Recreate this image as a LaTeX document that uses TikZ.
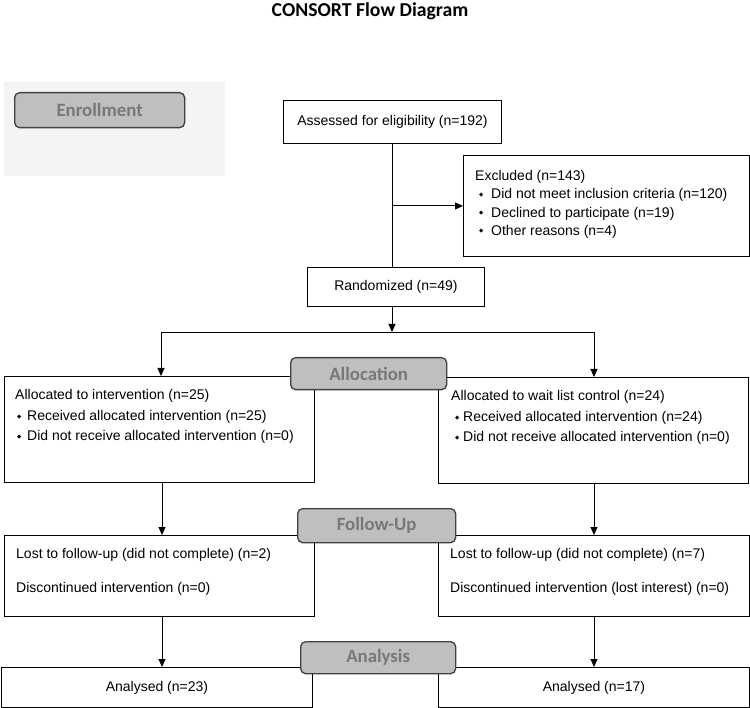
\documentclass[tikz,border=0pt]{standalone}
\usepackage{fontspec}
\setmainfont{Liberation Sans}
\newfontfamily\calfont{Carlito}
\newfontfamily\djfont{DejaVu Sans}
\usetikzlibrary{arrows.meta}
\definecolor{lblfill}{HTML}{BFBFBF}
\definecolor{lbldraw}{HTML}{404040}
\definecolor{lbltext}{HTML}{787878}
\definecolor{enrbg}{HTML}{F4F4F4}
\newcommand{\bul}[1]{\makebox[#1][l]{\raisebox{2.4pt}{\djfont\fontsize{5.5}{5.5}\selectfont ◆}}}
\tikzset{
  box/.style={draw, line width=0.9pt, inner sep=0, anchor=north west},
  txt/.style={inner sep=0, anchor=base west, font=\fontsize{14}{16}\selectfont},
  ctxt/.style={inner sep=0, font=\fontsize{14}{16}\selectfont},
  lbl/.style={draw=lbldraw, fill=lblfill, line width=1.3pt, rounded corners=5pt, inner sep=0, anchor=north west, text=lbltext, font=\calfont\bfseries\fontsize{18.8}{20}\selectfont},
  conn/.style={line width=0.9pt},
  arr/.style={line width=0.9pt, -{Triangle[length=8pt,width=7pt]}}
}
\begin{document}
\begin{tikzpicture}[x=1pt,y=-1pt]
\useasboundingbox (0,0) rectangle (750,708);
% title
\node[font=\calfont\bfseries\fontsize{19.7}{21}\selectfont, inner sep=0] (title) at (370,11) {CONSORT Flow Diagram};
% enrollment background
\fill[enrbg] (4,82) rectangle (225,176);
% boxes
\node[box, minimum width=218pt, minimum height=43pt] (assess) at (283,100) {};
\node[ctxt] (assessT) at (assess.center) {Assessed for eligibility (n=192)};
\node[box, minimum width=286pt, minimum height=101pt] (excl) at (463,155) {};
\node[txt] (ex1) at (475,180.5) {Excluded (n=143)};
\node[txt] (ex2) at (479,198.8) {\bul{12pt}Did not meet inclusion criteria (n=120)};
\node[txt] (ex3) at (479,217.1) {\bul{12pt}Declined to participate (n=19)};
\node[txt] (ex4) at (479,235.4) {\bul{12pt}Other reasons (n=4)};
\node[box, minimum width=177pt, minimum height=39pt] (rand) at (307,267) {};
\node[ctxt] (randT) at (rand.center) {Randomized (n=49)};
\node[box, minimum width=310pt, minimum height=106pt] (allocL) at (4,376) {};
\node[txt] (al1) at (15,400) {Allocated to intervention (n=25)};
\node[txt] (al2) at (17,421) {\bul{10pt}Received allocated intervention (n=25)};
\node[txt] (al3) at (17,441) {\bul{10pt}Did not receive allocated intervention (n=0)};
\node[box, minimum width=310pt, minimum height=106pt] (allocR) at (438,377) {};
\node[txt] (ar1) at (451,401) {Allocated to wait list control (n=24)};
\node[txt] (ar2) at (455,422) {\bul{8pt}Received allocated intervention (n=24)};
\node[txt] (ar3) at (455,442) {\bul{8pt}Did not receive allocated intervention (n=0)};
\node[box, minimum width=310pt, minimum height=81pt] (fuL) at (4,535) {};
\node[txt] (fl1) at (16,558) {Lost to follow-up (did not complete) (n=2)};
\node[txt] (fl2) at (16,592) {Discontinued intervention (n=0)};
\node[box, minimum width=311pt, minimum height=81pt] (fuR) at (438,535) {};
\node[txt] (fr1) at (450,558) {Lost to follow-up (did not complete) (n=7)};
\node[txt] (fr2) at (450,592) {Discontinued intervention (lost interest) (n=0)};
\node[box, minimum width=311pt, minimum height=40pt] (anL) at (1,667) {};
\node[ctxt] (anLT) at (anL.center) {Analysed (n=23)};
\node[box, minimum width=311pt, minimum height=40pt] (anR) at (438,667) {};
\node[ctxt] (anRT) at (anR.center) {Analysed (n=17)};
% connectors
\coordinate (split) at (392,332);
\coordinate (sl) at (161,332);
\coordinate (sr) at (594,332);
\coordinate (cL) at (162,0);
\coordinate (cR) at (594,0);
\draw[conn] (assess.south) -- (assess.south |- rand.north);
\draw[arr] (assess.south |- excl.west) -- (excl.west);
\draw[arr] (rand.south -| split) -- (split);
\draw[conn] (sl) -- (sr);
\draw[arr] (sl) -- (sl |- allocL.north);
\draw[arr] (sr) -- (sr |- allocR.north);
\draw[arr] (allocL.south -| cL) -- (fuL.north -| cL);
\draw[arr] (allocR.south -| cR) -- (fuR.north -| cR);
\draw[arr] (fuL.south -| cL) -- (anL.north -| cL);
\draw[arr] (fuR.south -| cR) -- (anR.north -| cR);
% stage labels
\node[lbl, minimum width=170pt, minimum height=35pt] (enroll) at (14,92) {Enrollment};
\node[lbl, minimum width=156pt, minimum height=32pt] (alloc) at (290,357) {Allocation};
\node[lbl, minimum width=158pt, minimum height=34pt] (follow) at (297,508) {Follow-Up};
\node[lbl, minimum width=155pt, minimum height=32pt] (analysis) at (300,641) {Analysis};
\end{tikzpicture}
\end{document}
